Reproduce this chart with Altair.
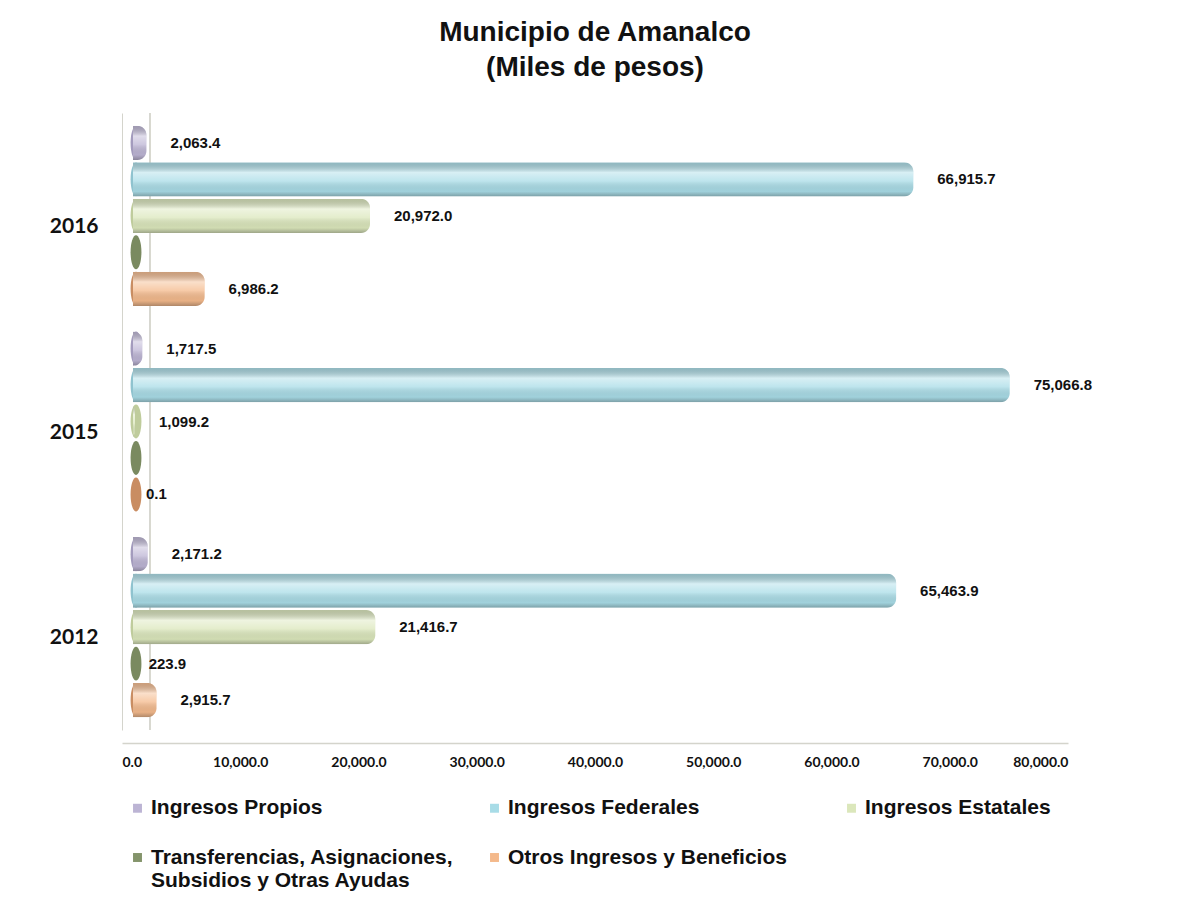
import altair as alt
import pandas as pd

years = ["2016", "2015", "2012"]
series = [
    "Ingresos Propios",
    "Ingresos Federales",
    "Ingresos Estatales",
    "Transferencias, Asignaciones, Subsidios y Otras Ayudas",
    "Otros Ingresos y Beneficios",
]
ingresos_propios = [2063.4, 1717.5, 2171.2]
ingresos_federales = [66915.7, 75066.8, 65463.9]
ingresos_estatales = [20972.0, 1099.2, 21416.7]
transferencias = [0.0, 0.0, 223.9]
otros_ingresos = [6986.2, 0.1, 2915.7]

base_colors = ["#bcb4d4", "#a8dce7", "#dbe7bb", "#84946b", "#f4b98b"]
end_colors = ["#a39bbd", "#8fc3cf", "#bfcc9c", "#7a8a60", "#c98d62"]

rows = []
for s, vals in zip(series, [ingresos_propios, ingresos_federales, ingresos_estatales,
                            transferencias, otros_ingresos]):
    for y, v in zip(years, vals):
        rows.append({"year": y, "serie": s, "value": v})
df = pd.DataFrame(rows)

FONT = "Liberation Sans, Arial"

y_enc = alt.Y("year:N", sort=years,
              scale=alt.Scale(paddingInner=0, paddingOuter=0),
              axis=alt.Axis(title=None, ticks=False, labelPadding=24, labelOffset=11,
                            labelFont="Lato", labelFontSize=21, labelFontWeight="bold",
                            labelColor="#111", domainColor="#d4d4cc"))
yoff_enc = alt.YOffset("serie:N", sort=series,
                       scale=alt.Scale(paddingInner=0.06, paddingOuter=0.35))
x_scale = alt.Scale(domain=[0, 80000], nice=False)

legend = alt.Legend(
    title=None, orient="none", legendX=5, legendY=673, columns=3, direction="horizontal",
    gridAlign="all", columnPadding=30, rowPadding=16,
    symbolType="square", symbolSize=80, symbolStrokeWidth=0,
    labelFont=FONT, labelFontSize=21, labelFontWeight="bold", labelColor="#111",
    labelLimit=400, labelOffset=3,
    labelExpr="datum.label == 'Transferencias, Asignaciones, Subsidios y Otras Ayudas' ? "
              "['Transferencias, Asignaciones,', ' Subsidios y Otras Ayudas'] : datum.label",
)

base = alt.Chart(df)

wall = base.mark_rule(color="#d8d8d0", strokeWidth=1.2, xOffset=28).encode(
    x=alt.datum(0, scale=x_scale)
)

ends = base.mark_point(
    filled=True, opacity=1,
    shape="M0,-1A0.32,1,0,1,1,0,1A0.32,1,0,1,1,0,-1Z", size=1150, xOffset=14,
).encode(
    x=alt.datum(0, scale=x_scale),
    y=y_enc, yOffset=yoff_enc,
    color=alt.Color("serie:N", sort=series,
                    scale=alt.Scale(domain=series, range=end_colors), legend=None),
)

bars = base.mark_bar(xOffset=11, cornerRadius=9).encode(
    x=alt.X("value:Q", scale=x_scale,
            axis=alt.Axis(title=None, format=",.1f", values=list(range(0, 80001, 10000)),
                          grid=False, ticks=False, offset=13, labelPadding=12,
                          labelFont="Lato", labelFontSize=14, labelFontWeight="bold",
                          labelColor="#111", domainColor="#d4d4cc", domainWidth=1.5)),
    y=y_enc, yOffset=yoff_enc,
    color=alt.Color("serie:N", sort=series,
                    scale=alt.Scale(domain=series, range=base_colors), legend=legend),
)

shine = base.mark_bar(
    xOffset=11, cornerRadius=9,
    color=alt.Gradient(
        gradient="linear", x1=0, y1=0, x2=0, y2=1,
        stops=[
            alt.GradientStop(offset=0, color="rgba(60,60,60,0.22)"),
            alt.GradientStop(offset=0.3, color="rgba(255,255,255,0.55)"),
            alt.GradientStop(offset=0.55, color="rgba(255,255,255,0.25)"),
            alt.GradientStop(offset=0.85, color="rgba(40,40,40,0.06)"),
            alt.GradientStop(offset=1, color="rgba(30,30,30,0.32)"),
        ],
    ),
).encode(
    x=alt.X("value:Q", scale=x_scale),
    y=y_enc, yOffset=yoff_enc,
)

labels = base.transform_filter("datum.value > 0").mark_text(
    align="left", baseline="middle", dx=24, font=FONT,
    fontSize=15, fontWeight="bold", color="#111",
).encode(
    x=alt.X("value:Q", scale=x_scale),
    y=y_enc, yOffset=yoff_enc,
    text=alt.Text("value:Q", format=",.1f"),
)

chart = alt.layer(wall, ends, bars, shine, labels).resolve_scale(
    color="independent"
).properties(
    width=946, height=617,
    background="white",
    autosize=alt.AutoSizeParams(type="none"),
    padding={"left": 114, "top": 105, "right": 127, "bottom": 170},
    title=alt.Title(
        ["Municipio de Amanalco", "(Miles de pesos)"],
        anchor="middle", font=FONT, fontSize=28, fontWeight="bold",
        color="#111", lineHeight=35, offset=30,
    ),
).configure_view(strokeWidth=0, stroke=None)

chart.save("out.html", embed_options={"renderer": "svg", "actions": False})
